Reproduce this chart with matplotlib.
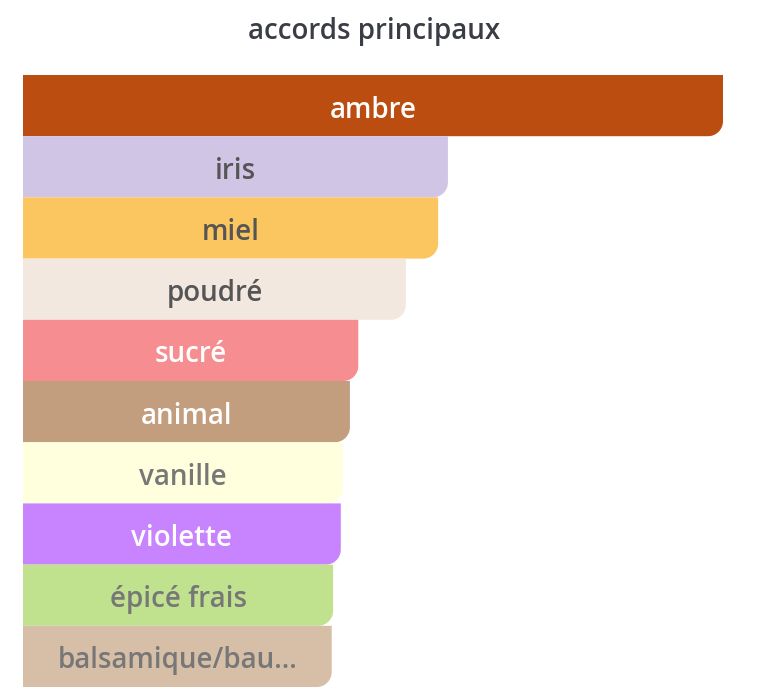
import matplotlib
matplotlib.use('Agg')
import matplotlib.pyplot as plt
from matplotlib.patches import Polygon
import numpy as np

# accords (share of the strongest one, in %)
accords = ['ambre', 'iris', 'miel', 'poudré', 'sucré', 'animal',
           'vanille', 'violette', 'épicé frais', 'balsamique/bau...']
valeurs = [100, 60.7, 59.3, 54.7, 47.9, 46.7, 45.7, 45.4, 44.3, 44.1]
couleurs = ['#BC4D10', '#D0C5E5', '#FBC55F', '#F3E8DF', '#F68E91',
            '#C29D7E', '#FFFEDD', '#C883FF', '#C0E28F', '#D6BEA7']
couleurs_texte = ['white', '#555555', '#555555', '#555555', 'white',
                  'white', '#777777', 'white', '#777777', '#777777']

W, H, dpi = 757, 700, 100
fig = plt.figure(figsize=(W/dpi, H/dpi), dpi=dpi)
ax = fig.add_axes([23/W, 13/H, 700/W, 612/H])
ax.set_xlim(0, 100)
ax.set_ylim(len(accords) - 0.5, -0.5)
ax.axis('off')

# corner radius in pixels -> data units
r_px = 15
rx = r_px / 700 * 100
ry = r_px / 612 * len(accords)
t = np.linspace(0, np.pi/2, 20)
decal = 12 / 612 * len(accords)  # baseline offset below bar centre

for i, (v, c) in enumerate(zip(valeurs, couleurs)):
    y0, y1 = i - 0.5, i + 0.5
    # only the bottom-right corner is rounded (y axis inverted)
    arc_x = v - rx + rx*np.cos(t)
    arc_y = y1 - ry + ry*np.sin(t)
    pts = [(0, y0), (v, y0)] + list(zip(arc_x, arc_y)) + [(0, y1)]
    ax.add_patch(Polygon(pts, closed=True, facecolor=c, edgecolor='none'))
    ax.text(v/2, i + decal, accords[i], ha='center', va='baseline', fontsize=20,
            fontfamily='Open Sans', fontweight='semibold', color=couleurs_texte[i])

fig.text(374/W, 1 - 39/H, 'accords principaux', ha='center', va='baseline',
         fontsize=20, fontfamily='Open Sans', fontweight='semibold', color='#3a3d45')

fig.savefig('out.png', dpi=dpi)
